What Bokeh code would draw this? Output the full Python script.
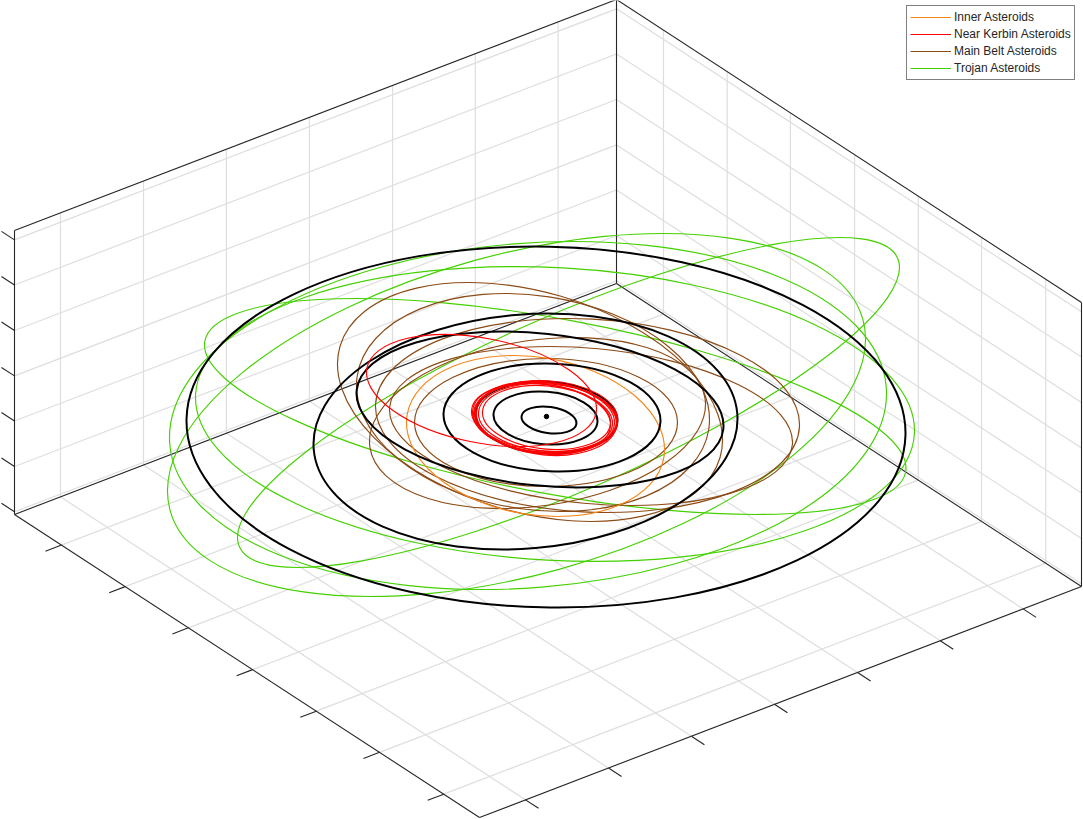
import math
from bokeh.embed import file_html
from bokeh.models import ColumnDataSource, Legend, LegendItem, Range1d
from bokeh.plotting import figure
from bokeh.resources import INLINE

W, H = 1083, 819

# Box corners
ORIGIN = (14, 514)
U_EDGE = (602, -231)
V_EDGE = (465, 303)
W_EDGE = (0, -284)

# Tick positions (fraction of each axis)
x_ticks = [0.0764, 0.2143, 0.352, 0.49, 0.628, 0.7654, 0.903]
y_ticks = [0.101, 0.238, 0.374, 0.512, 0.649, 0.785, 0.923]
z_ticks = [0.0095, 0.169, 0.329, 0.488, 0.648, 0.808, 0.967]

# Orbit extents: left, right, top, bottom, tilt
planets_left = [521, 493, 475, 443, 356, 313, 186]
planets_right = [576, 597, 617, 660, 723, 737, 905]
planets_top = [406, 391, 381, 363, 331, 313, 246]
planets_bottom = [433, 444, 453, 471, 487, 549, 607]
planets_tilt = [3, 3, 3, 3, 16, -12.5, 6]

near_left = [366, 472, 474, 471, 476, 478, 482, 475, 473]
near_right = [596, 614, 617, 612, 616, 616, 610, 610, 617]
near_top = [334, 381, 380, 383, 381, 383, 385, 383, 382]
near_bottom = [446, 453, 452, 451, 455, 451, 449, 454, 453]
near_tilt = [18, 5, 3, 6, 5, 4, 5, 6, 4]

inner_left = [406]
inner_right = [664]
inner_top = [355]
inner_bottom = [516]
inner_tilt = [13.5]

belt_left = [337, 356, 375, 389, 369, 414]
belt_right = [722, 709, 799, 792, 705, 677]
belt_top = [282, 293, 318, 346, 337, 358]
belt_bottom = [521, 511, 512, 505, 508, 486]
belt_tilt = [38, 17, 9, 16, -18.5, 0]

trojan_left = [204, 237, 167, 169, 195]
trojan_right = [905.5, 899, 865, 886, 914]
trojan_top = [298, 237, 233, 241, 266]
trojan_bottom = [514, 567, 596, 589, 561]
trojan_tilt = [61.5, -135, -76, -22, 16.5]

sun_x = [546]
sun_y = [416]

legend_labels = ["Inner Asteroids", "Near Kerbin Asteroids", "Main Belt Asteroids", "Trojan Asteroids"]

ORANGE, RED, BROWN, GREEN = "#f5871a", "#ff0000", "#8c4a14", "#44d000"
AXIS, GRID = "#262626", "#dedede"


def project(u, v, w):
    x = ORIGIN[0] + u * U_EDGE[0] + v * V_EDGE[0] + w * W_EDGE[0]
    y = ORIGIN[1] + u * U_EDGE[1] + v * V_EDGE[1] + w * W_EDGE[1]
    return x, H - y


def segments(pairs):
    xs, ys = [], []
    for a, b in pairs:
        pa, pb = project(*a), project(*b)
        xs.append([pa[0], pb[0]])
        ys.append([pa[1], pb[1]])
    return dict(xs=xs, ys=ys)


def orbit_source(left, right, top, bottom, tilt):
    cx, cy, w, h, ang = [], [], [], [], []
    for l, r, t, b, d in zip(left, right, top, bottom, tilt):
        X, Y = (r - l) / 2, (b - t) / 2
        sxx, syy, sxy = X * X, Y * Y, -d * X
        mid = (sxx + syy) / 2
        rad = math.hypot((sxx - syy) / 2, sxy)
        cx.append((l + r) / 2)
        cy.append(H - (t + b) / 2)
        w.append(2 * math.sqrt(mid + rad))
        h.append(2 * math.sqrt(max(mid - rad, 1)))
        ang.append(0.5 * math.atan2(2 * sxy, sxx - syy))
    return ColumnDataSource(dict(x=cx, y=cy, w=w, h=h, a=ang))


p = figure(width=W, height=H, output_backend="svg", toolbar_location=None,
           x_range=Range1d(0, W), y_range=Range1d(0, H), min_border=0,
           outline_line_color=None, background_fill_color="white",
           styles={"position": "absolute", "left": "0px", "top": "0px"})
p.axis.visible = False
p.grid.visible = False

grid_pairs = []
for u in x_ticks:
    grid_pairs.append(((u, 0, 0), (u, 1, 0)))
    grid_pairs.append(((u, 0, 0), (u, 0, 1)))
for v in y_ticks:
    grid_pairs.append(((0, v, 0), (1, v, 0)))
    grid_pairs.append(((1, v, 0), (1, v, 1)))
for w in z_ticks:
    grid_pairs.append(((0, 0, w), (1, 0, w)))
    grid_pairs.append(((1, 0, w), (1, 1, w)))
g = segments(grid_pairs)
p.multi_line(g["xs"], g["ys"], line_color=GRID, line_width=1.2)

box_pairs = [
    ((0, 0, 0), (1, 0, 0)), ((1, 0, 0), (1, 1, 0)), ((0, 0, 0), (0, 1, 0)), ((0, 1, 0), (1, 1, 0)),
    ((0, 0, 0), (0, 0, 1)), ((1, 0, 0), (1, 0, 1)), ((1, 1, 0), (1, 1, 1)),
    ((0, 0, 1), (1, 0, 1)), ((1, 0, 1), (1, 1, 1)),
]
for u in x_ticks:
    box_pairs.append(((u, 1, 0), (u, 1.028, 0)))
for v in y_ticks:
    box_pairs.append(((0, v, 0), (-0.0266, v, 0)))
for w in z_ticks:
    box_pairs.append(((0, 0, w), (0, -0.028, w)))
b = segments(box_pairs)
p.multi_line(b["xs"], b["ys"], line_color=AXIS, line_width=1.1)

def draw(src, color, width):
    p.ellipse("x", "y", width="w", height="h", angle="a", source=src,
              fill_color=None, line_color=color, line_width=width)

draw(orbit_source(trojan_left, trojan_right, trojan_top, trojan_bottom, trojan_tilt), GREEN, 1.15)
draw(orbit_source(belt_left, belt_right, belt_top, belt_bottom, belt_tilt), BROWN, 1.15)
draw(orbit_source(inner_left, inner_right, inner_top, inner_bottom, inner_tilt), ORANGE, 1.15)
draw(orbit_source(planets_left, planets_right, planets_top, planets_bottom, planets_tilt), "black", 2)
draw(orbit_source(near_left, near_right, near_top, near_bottom, near_tilt), RED, 1.15)
p.scatter([sun_x[0]], [H - sun_y[0]], size=4.5, color="black")

items = []
for label, color in zip(legend_labels, [ORANGE, RED, BROWN, GREEN]):
    r = p.line(x=[float("nan")] * 2, y=[float("nan")] * 2, line_color=color, line_width=1.15)
    items.append(LegendItem(label=label, renderers=[r]))
legend = Legend(items=items, location=(906, H - 79.5), orientation="vertical",
                glyph_width=41, glyph_height=16, label_height=16, label_standoff=3,
                spacing=1, padding=3, margin=0,
                border_line_color="black", border_line_width=1.2,
                background_fill_color="white", background_fill_alpha=1,
                label_text_font="Liberation Sans", label_text_font_size="12px",
                label_text_color="#262626")
p.add_layout(legend, "center")

open("out.html", "w").write(file_html(p, INLINE))
